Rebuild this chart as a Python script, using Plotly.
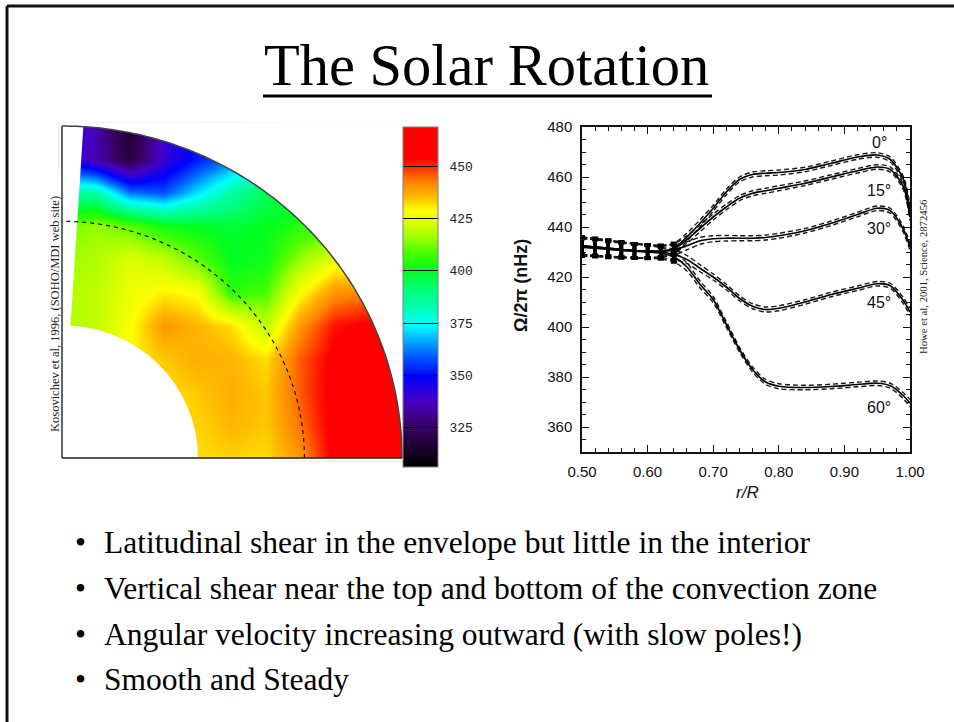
import numpy as np
import plotly.graph_objects as go

W, H = 954, 722

# ---------------- meridional rotation map (Omega/2pi, nHz) ----------------
# values on a Cartesian grid of the meridional quadrant (x = equatorial, y = polar, in R)
map_x = [0.0, 0.1, 0.2, 0.3, 0.4, 0.5, 0.6, 0.7, 0.8, 0.9, 1.0]
map_y = [0.0, 0.1, 0.2, 0.3, 0.4, 0.5, 0.6, 0.7, 0.8, 0.9, 1.0]
omega_map = [
    [432, 432, 432, 432, 432, 433, 432, 440, 455, 458, 458],  # y = 0.0
    [428, 429, 430, 432, 433, 436, 434, 444, 456, 458, 458],  # y = 0.1
    [426, 428, 430, 432, 434, 437, 434, 446, 456, 458, 458],  # y = 0.2
    [420, 424, 430, 434, 437, 436, 432, 446, 455, 457, 457],  # y = 0.3
    [418, 420, 428, 440, 436, 432, 420, 440, 452, 455, 455],  # y = 0.4
    [418, 420, 426, 430, 428, 405, 408, 428, 440, 442, 442],  # y = 0.5
    [416, 418, 424, 420, 410, 400, 402, 415, 425, 425, 425],  # y = 0.6
    [412, 415, 410, 402, 400, 398, 400, 405, 405, 405, 405],  # y = 0.7
    [385, 385, 362, 358, 372, 385, 395, 395, 395, 395, 395],  # y = 0.8
    [348, 335, 320, 340, 352, 362, 370, 380, 380, 380, 380],  # y = 0.9
    [342, 336, 314, 340, 352, 362, 370, 380, 380, 380, 380],  # y = 1.0
]
r_inner = 0.40      # innermost radius of the inversion
r_tacho = 0.713     # base of the convection zone
lat_max = 86.4      # highest latitude shown (deg)
omega_min, omega_max = 306, 469
cbar_vals = [325, 350, 375, 400, 425, 450]

# ---------------- radial profiles at fixed latitude ----------------
r_prof = [0.50, 0.52, 0.54, 0.56, 0.58, 0.60, 0.62, 0.64, 0.66, 0.68, 0.70, 0.72,
          0.74, 0.76, 0.78, 0.80, 0.84, 0.88, 0.92, 0.95, 0.97, 0.99, 1.00]
omega_lat00 = [432.5, 432.0, 431.5, 431.0, 430.5, 430.3, 430.3, 431.5, 436.0, 441.5, 447.5, 454.0,
               459.0, 461.0, 461.5, 461.8, 463.0, 465.5, 468.0, 468.8, 467.0, 459.0, 447.0]
omega_lat15 = [432.5, 432.0, 431.5, 431.0, 430.5, 430.3, 430.3, 431.2, 435.0, 439.5, 444.0, 448.0,
               451.5, 453.5, 454.5, 455.5, 457.5, 460.0, 462.5, 464.0, 463.0, 456.0, 444.0]
omega_lat30 = [432.5, 432.0, 431.5, 431.0, 430.5, 430.3, 430.3, 430.8, 432.5, 434.5, 435.3, 435.5,
               435.5, 435.5, 435.8, 436.5, 438.5, 441.5, 445.0, 447.5, 446.5, 439.0, 432.0]
omega_lat45 = [432.0, 431.8, 431.3, 430.8, 430.5, 430.2, 430.0, 429.0, 427.0, 423.5, 420.0, 416.0,
               411.5, 408.3, 407.0, 407.5, 410.0, 413.0, 415.5, 417.3, 416.5, 410.5, 406.0]
omega_lat60 = [431.8, 431.5, 431.0, 430.6, 430.3, 430.0, 429.5, 428.0, 424.0, 417.0, 411.0, 401.0,
               391.0, 383.0, 378.0, 376.3, 375.8, 376.2, 377.0, 377.5, 376.5, 372.5, 369.5]
sigma_prof = [3.5, 3.4, 3.2, 3.0, 2.8, 2.6, 2.3, 2.0, 1.6, 1.4, 1.2, 1.1,
              1.0, 1.0, 1.0, 1.0, 0.9, 0.9, 0.9, 0.9, 1.0, 1.2, 1.5]
lat_labels = ["0°", "15°", "30°", "45°", "60°"]
profiles = [omega_lat00, omega_lat15, omega_lat30, omega_lat45, omega_lat60]


def px_x(p):
    return p / W


def px_y(p):
    return 1 - p / H


# rainbow palette: black -> purple -> blue -> cyan -> green -> yellow -> red
palette = [
    [0.000, "#000000"], [0.117, "#380060"], [0.190, "#4800c0"], [0.265, "#0000ff"],
    [0.330, "#0060ff"], [0.400, "#00e0ff"], [0.420, "#00ffff"], [0.470, "#00ffb0"],
    [0.530, "#00ff70"], [0.577, "#00ff20"], [0.625, "#40ff00"], [0.675, "#a0ff00"],
    [0.725, "#e0ff00"], [0.755, "#ffff00"], [0.790, "#ffc000"], [0.840, "#ff8000"],
    [0.880, "#ff3000"], [0.905, "#ff0000"], [1.000, "#ff0000"],
]

fig = go.Figure()

fig.add_trace(go.Heatmap(
    x=map_x, y=map_y, z=omega_map, zmin=omega_min, zmax=omega_max,
    colorscale=palette, zsmooth="best", xaxis="x", yaxis="y", hoverinfo="skip",
    colorbar=dict(
        x=px_x(403), xanchor="left", y=px_y(467), yanchor="bottom",
        len=340 / H, lenmode="fraction", thickness=35, thicknessmode="pixels",
        xpad=0, ypad=0, outlinecolor="#808080", outlinewidth=1,
        tickvals=cbar_vals, ticktext=["\u00a0" + str(v) for v in cbar_vals],
        ticks="inside", ticklen=35, tickwidth=1, tickcolor="#000000",
        tickfont=dict(family="Liberation Mono", size=13, color="#222222"),
    ),
))


def arc(radius, a0, a1, n=120):
    a = np.radians(np.linspace(a0, a1, n))
    return radius * np.cos(a), radius * np.sin(a)


def path_from(xs, ys, close=False):
    s = "M " + " L ".join(f"{x:.5f},{y:.5f}" for x, y in zip(xs, ys))
    return s + (" Z" if close else "")


shapes = []
noline = dict(color="rgba(0,0,0,0)", width=0)
# mask outside the solar surface
ox, oy = arc(1.0, 0, 90)
ox = list(ox) + [0.0, 1.2, 1.2, 1.0]
oy = list(oy) + [1.2, 1.2, -0.2, -0.2]
shapes.append(dict(type="path", xref="x", yref="y", path=path_from(ox, oy, True),
                   fillcolor="white", line=noline, layer="above"))
# mask below the equator
shapes.append(dict(type="rect", xref="x", yref="y", x0=-0.2, x1=1.2, y0=-0.2, y1=0,
                   fillcolor="white", line=noline, layer="above"))
# mask of the polar wedge without data
pl = np.radians(lat_max)
wx = [-0.2, 0.0, 1.2 * np.cos(pl), -0.2]
wy = [-0.2, 0.0, 1.2 * np.sin(pl), 1.2]
shapes.append(dict(type="path", xref="x", yref="y", path=path_from(wx, wy, True),
                   fillcolor="white", line=noline, layer="above"))
# mask of the unresolved core
shapes.append(dict(type="circle", xref="x", yref="y", x0=-r_inner, x1=r_inner,
                   y0=-r_inner, y1=r_inner, fillcolor="white", line=noline, layer="above"))
# quadrant outline
shapes.append(dict(type="line", xref="x", yref="y", x0=0, y0=0, x1=0, y1=1.0,
                   line=dict(color="#333333", width=1.5), layer="above"))
shapes.append(dict(type="line", xref="x", yref="y", x0=0, y0=0, x1=1.0, y1=0,
                   line=dict(color="#222222", width=1.5), layer="above"))
sx, sy = arc(1.0, 0, 90)
shapes.append(dict(type="path", xref="x", yref="y", path=path_from(sx, sy),
                   line=dict(color="#444444", width=1.5), layer="above"))
# base of the convection zone
tx, ty = arc(r_tacho, 0, 90)
shapes.append(dict(type="path", xref="x", yref="y", path=path_from(tx, ty),
                   line=dict(color="#111111", width=1.2, dash="4px,4px"), layer="above"))

# ---------------- right panel: radial profiles ----------------
n_err = sum(1 for r in r_prof if r <= 0.64)
for om in profiles:
    om = np.array(om)
    sg = np.array(sigma_prof)
    for sgn in (1, -1):
        fig.add_trace(go.Scatter(
            x=r_prof, y=om + sgn * sg, mode="lines", xaxis="x2", yaxis="y2",
            line=dict(color="#1a1a1a", width=1.4, dash="5px,3px", shape="spline", smoothing=0.8),
            hoverinfo="skip", showlegend=False))
    fig.add_trace(go.Scatter(
        x=r_prof, y=om, mode="lines", xaxis="x2", yaxis="y2",
        line=dict(color="#000000", width=1.7, shape="spline", smoothing=0.8),
        hoverinfo="skip", showlegend=False))
    fig.add_trace(go.Scatter(
        x=r_prof[:n_err], y=list(om[:n_err]), mode="markers", xaxis="x2", yaxis="y2",
        marker=dict(size=1, color="#000000"),
        error_y=dict(type="data", array=sigma_prof[:n_err], color="#000000", thickness=3.5, width=3),
        hoverinfo="skip", showlegend=False))

label_r = 0.953
label_omega = [474.0, 454.8, 439.6, 410.0, 368.0]
annotations = []
for txt, yv in zip(lat_labels, label_omega):
    annotations.append(dict(x=label_r, y=yv, xref="x2", yref="y2", text=txt, showarrow=False,
                            xanchor="center", yanchor="middle",
                            font=dict(family="Liberation Sans", size=16, color="#111111")))

# axis titles of the profile panel
annotations.append(dict(x=px_x(521), y=px_y(286), xref="paper", yref="paper", text="<b>Ω/2π (nHz)</b>",
                        textangle=-90, showarrow=False, xanchor="center", yanchor="middle",
                        font=dict(family="Liberation Sans", size=18, color="#111111")))
annotations.append(dict(x=px_x(747), y=px_y(492), xref="paper", yref="paper", text="<i>r/R</i>",
                        showarrow=False, xanchor="center", yanchor="middle",
                        font=dict(family="Liberation Sans", size=17, color="#111111")))

# credits
annotations.append(dict(x=px_x(55), y=px_y(314), xref="paper", yref="paper",
                        text="Kosovichev et al, 1996, (SOHO/MDI web site)", textangle=-90,
                        showarrow=False, xanchor="center", yanchor="middle",
                        font=dict(family="Liberation Serif", size=12.5, color="#222222")))
annotations.append(dict(x=px_x(923), y=px_y(277), xref="paper", yref="paper",
                        text="Howe et al, 2001, Science, 2872456", textangle=-90,
                        showarrow=False, xanchor="center", yanchor="middle",
                        font=dict(family="Liberation Serif", size=10.7, color="#222222")))

# slide title
annotations.append(dict(x=px_x(487), y=px_y(65), xref="paper", yref="paper", text="The Solar Rotation",
                        showarrow=False, xanchor="center", yanchor="middle",
                        font=dict(family="Liberation Serif", size=58.5, color="#000000")))
shapes.append(dict(type="line", xref="paper", yref="paper", x0=px_x(263), x1=px_x(712),
                   y0=px_y(96), y1=px_y(96), line=dict(color="#000000", width=3)))

# bullet list
bullets = [
    "Latitudinal shear in the envelope but little in the interior",
    "Vertical shear near the top and bottom of the convection zone",
    "Angular velocity increasing outward (with slow poles!)",
    "Smooth and Steady",
]
bullet_y = [542, 588, 634, 679.5]
for txt, yp in zip(bullets, bullet_y):
    annotations.append(dict(x=px_x(80), y=px_y(yp), xref="paper", yref="paper", text="•",
                            showarrow=False, xanchor="center", yanchor="middle",
                            font=dict(family="Liberation Serif", size=31.5, color="#000000")))
    annotations.append(dict(x=px_x(102), y=px_y(yp), xref="paper", yref="paper", text=txt,
                            showarrow=False, xanchor="left", yanchor="middle",
                            font=dict(family="Liberation Serif", size=31.5, color="#000000")))

# slide frame (top and left edges)
shapes.append(dict(type="line", xref="paper", yref="paper", x0=px_x(7), x1=1.0,
                   y0=px_y(6), y1=px_y(6), line=dict(color="#111111", width=3)))
shapes.append(dict(type="line", xref="paper", yref="paper", x0=px_x(7), x1=px_x(7),
                   y0=px_y(6), y1=0.0, line=dict(color="#111111", width=3)))

tick_font = dict(family="Liberation Sans", size=15, color="#111111")
fig.update_layout(
    width=W, height=H, margin=dict(l=0, r=0, t=0, b=0, autoexpand=False),
    paper_bgcolor="white", plot_bgcolor="rgba(0,0,0,0)", showlegend=False,
    xaxis=dict(domain=[px_x(58.6), px_x(405.4)], range=[-0.01, 1.01], visible=False, anchor="y"),
    yaxis=dict(domain=[px_y(461.3), px_y(122.7)], range=[-0.01, 1.01], visible=False, anchor="x"),
    xaxis2=dict(domain=[px_x(582), px_x(910)], range=[0.5, 1.0], anchor="y2",
                showline=True, linecolor="#111111", linewidth=1.5, mirror="allticks",
                ticks="inside", ticklen=7, tickwidth=1.2, tickcolor="#111111",
                tick0=0.5, dtick=0.1, tickformat=".2f", showgrid=False, zeroline=False,
                automargin=False, ticklabelstandoff=5,
                minor=dict(dtick=0.02, ticks="inside", ticklen=4, tickwidth=1, tickcolor="#111111",
                           showgrid=False),
                tickfont=tick_font),
    yaxis2=dict(domain=[px_y(452), px_y(127)], range=[350, 480], anchor="x2",
                showline=True, linecolor="#111111", linewidth=1.5, mirror="allticks",
                ticks="inside", ticklen=7, tickwidth=1.2, tickcolor="#111111",
                tick0=360, dtick=20, showgrid=False, zeroline=False, ticklabelstandoff=5,
                automargin=False,
                minor=dict(dtick=5, ticks="inside", ticklen=4, tickwidth=1, tickcolor="#111111",
                           showgrid=False),
                tickfont=tick_font),
    shapes=shapes, annotations=annotations,
)

fig.write_html("out.html")
